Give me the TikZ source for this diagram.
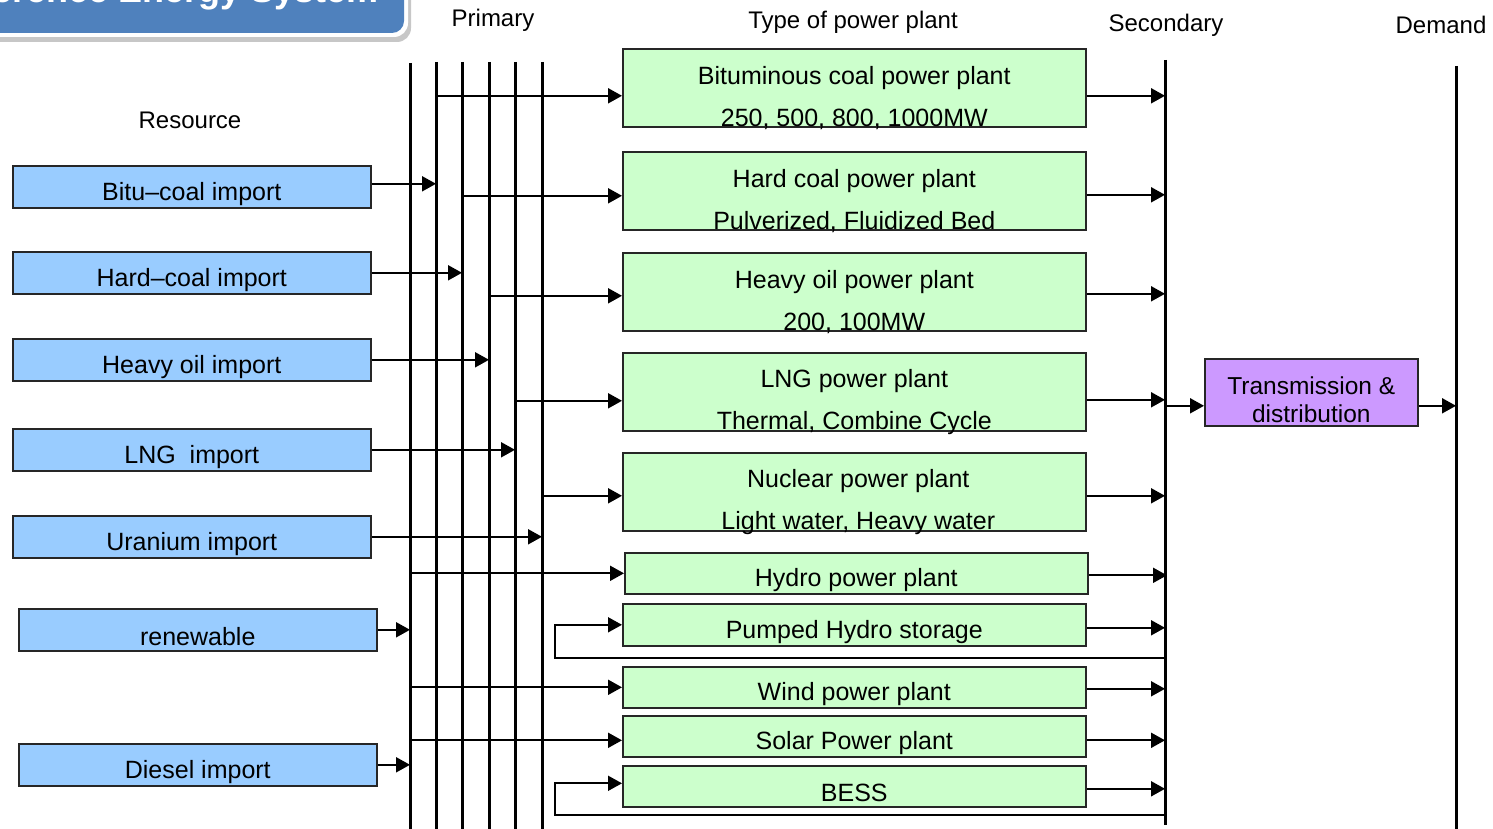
\documentclass[tikz,border=0pt]{standalone}
\usepackage{fontspec}
\setmainfont{Liberation Sans}
\usetikzlibrary{arrows.meta}
\definecolor{titleblue}{HTML}{4F81BD}
\definecolor{resblue}{HTML}{99CCFF}
\definecolor{plantgreen}{HTML}{CCFFCC}
\definecolor{tdpurple}{HTML}{CC99FF}
\begin{document}
\begin{tikzpicture}[x=1pt,y=-1pt,
  bus/.style={line width=3pt},
  conn/.style={line width=2pt,-{Triangle[length=14pt,width=15pt]}},
  loopconn/.style={line width=1.7pt,-{Triangle[length=14pt,width=15pt]}},
  boxline/.style={draw=black!85,line width=1.6pt,inner sep=0pt},
  resbox/.style={boxline,fill=resblue,minimum width=358pt,minimum height=42pt,anchor=north west},
  plantbox/.style={boxline,fill=plantgreen,minimum width=463pt,minimum height=78pt,anchor=north west},
  smallplant/.style={plantbox,minimum height=41pt},
  lbl/.style={font=\fontsize{25}{28}\selectfont,inner sep=0pt},
  plbl/.style={font=\fontsize{25}{42}\selectfont,align=center,inner sep=0pt},
  head/.style={font=\fontsize{24}{28}\selectfont,inner sep=0pt}
]
\useasboundingbox (0,0) rectangle (1493,829);
\clip (0,0) rectangle (1493,829);

% title banner (clipped at the top, as in the reference)
\fill[black!22,rounded corners=14pt] (-40,-40) rectangle (411,42);
\fill[white,rounded corners=14pt] (-40,-40) rectangle (408,37);
\fill[titleblue,rounded corners=12pt] (-40,-40) rectangle (404,33);
\node[anchor=base east,text=white,font=\fontsize{36}{40}\selectfont\bfseries,inner sep=0pt] (title) at (379,3) {Reference Energy System};

% headers
\node[head] (hprim) at (493,20.5) {Primary};
\node[head] (htype) at (853,22) {Type of power plant};
\node[head] (hsec) at (1166,25) {Secondary};
\node[head] (hdem) at (1441,25) {Demand};
\node[head] (hres) at (190,120) {Resource};

% buses
\coordinate (p1t) at (410,63);  \coordinate (p1b) at (410,840);
\coordinate (p2t) at (436,62);  \coordinate (p2b) at (436,840);
\coordinate (p3t) at (462,62);  \coordinate (p3b) at (462,840);
\coordinate (p4t) at (489,62);  \coordinate (p4b) at (489,840);
\coordinate (p5t) at (515,62);  \coordinate (p5b) at (515,840);
\coordinate (p6t) at (542,62);  \coordinate (p6b) at (542,840);
\coordinate (sect) at (1165,60); \coordinate (secb) at (1165,825);
\coordinate (demt) at (1456,66); \coordinate (demb) at (1456,840);
\foreach \b in {p1,p2,p3,p4,p5,p6}{\draw[bus] (\b t) -- (\b b);}
\draw[bus] (sect) -- (secb);
\draw[bus] (demt) -- (demb);

% resource boxes
\node[resbox,label={[lbl,yshift=-7pt]center:Bitu--coal import}] (bitu) at (12,165) {};
\node[resbox,label={[lbl,yshift=-7pt]center:Hard--coal import}] (hard) at (12,251) {};
\node[resbox,label={[lbl,yshift=-7pt]center:Heavy oil import}] (hoil) at (12,338) {};
\node[resbox,label={[lbl,yshift=-7pt]center:LNG\ \ import}] (lngi) at (12,428) {};
\node[resbox,label={[lbl,yshift=-7pt]center:Uranium import}] (uran) at (12,515) {};
\node[resbox,label={[lbl,yshift=-7pt]center:renewable}] (renew) at (18,608) {};
\node[resbox,label={[lbl,yshift=-7pt]center:Diesel import}] (dies) at (18,743) {};

% plant boxes
\node[plantbox,label={[plbl,yshift=-10pt]center:{Bituminous coal power plant\\250, 500, 800, 1000MW}}] (bc) at (622,48) {};
\node[plantbox,label={[plbl,yshift=-10pt]center:{Hard coal power plant\\Pulverized, Fluidized Bed}}] (hc) at (622,151) {};
\node[plantbox,label={[plbl,yshift=-10pt]center:{Heavy oil power plant\\200, 100MW}}] (ho) at (622,252) {};
\node[plantbox,label={[plbl,yshift=-10pt]center:{LNG power plant\\Thermal, Combine Cycle}}] (lng) at (622,352) {};
\node[plantbox,label={[plbl,yshift=-10pt,xshift=4pt]center:{Nuclear power plant\\Light water, Heavy water}}] (nuc) at (622,452) {};
\node[smallplant,label={[lbl,yshift=-7pt]center:Hydro power plant}] (hydro) at (624,552) {};
\node[smallplant,minimum height=42pt,label={[lbl,yshift=-7pt]center:Pumped Hydro storage}] (ph) at (622,603) {};
\node[smallplant,label={[lbl,yshift=-7pt]center:Wind power plant}] (wind) at (622,666) {};
\node[smallplant,label={[lbl,yshift=-7pt]center:Solar Power plant}] (solar) at (622,715) {};
\node[smallplant,label={[lbl,yshift=-7pt]center:BESS}] (bess) at (622,765) {};

% transmission & distribution
\node[boxline,fill=tdpurple,minimum width=213pt,minimum height=67pt,anchor=north west,
  label={[font=\fontsize{24.5}{28}\selectfont,align=center,inner sep=0pt,yshift=-7.5pt]center:{Transmission \&\\distribution}}] (td) at (1204,358) {};

% resource -> primary buses
\draw[conn] ([yshift=3pt]bitu.east) -- ([yshift=3pt]bitu.east -| p2t);
\draw[conn] (hard.east) -- (hard.east -| p3t);
\draw[conn] (hoil.east) -- (hoil.east -| p4t);
\draw[conn] (lngi.east) -- (lngi.east -| p5t);
\draw[conn] (uran.east) -- (uran.east -| p6t);
\draw[conn] (renew.east) -- (renew.east -| p1t);
\draw[conn] (dies.east) -- (dies.east -| p1t);

% primary buses -> plants
\draw[conn] ([yshift=-8pt]bc.west -| p2t) -- ([yshift=-8pt]bc.west);
\draw[conn] ([yshift=-5pt]hc.west -| p3t) -- ([yshift=-5pt]hc.west);
\draw[conn] ([yshift=-4pt]ho.west -| p4t) -- ([yshift=-4pt]ho.west);
\draw[conn] ([yshift=-9pt]lng.west -| p5t) -- ([yshift=-9pt]lng.west);
\draw[conn] ([yshift=-4pt]nuc.west -| p6t) -- ([yshift=-4pt]nuc.west);
\draw[conn] (hydro.west -| p1t) -- (hydro.west);
\draw[conn] (wind.west -| p1t) -- (wind.west);
\draw[conn] ([yshift=-4pt]solar.west -| p1t) -- ([yshift=-4pt]solar.west);

% storage loops from secondary bus
\coordinate (phloop) at (555,658);
\coordinate (bessloop) at (555,815);
\draw[loopconn] (phloop -| sect) -- (phloop) |- (ph.west);
\draw[loopconn] (bessloop -| sect) -- (bessloop) |- ([yshift=3pt]bess.west);

% plants -> secondary bus
\draw[conn] ([yshift=-8pt]bc.east) -- ([yshift=-8pt]bc.east -| sect);
\draw[conn] ([yshift=-4pt]hc.east) -- ([yshift=-4pt]hc.east -| sect);
\draw[conn] ([yshift=-2pt]ho.east) -- ([yshift=-2pt]ho.east -| sect);
\draw[conn] ([yshift=-8pt]lng.east) -- ([yshift=-8pt]lng.east -| sect);
\draw[conn] ([yshift=-4pt]nuc.east) -- ([yshift=-4pt]nuc.east -| sect);
\draw[conn] ([yshift=-2pt]hydro.east) -- ([yshift=-2pt,xshift=2pt]hydro.east -| sect);
\draw[conn] ([yshift=-3pt]ph.east) -- ([yshift=-3pt]ph.east -| sect);
\draw[conn] ([yshift=-1.5pt]wind.east) -- ([yshift=-1.5pt]wind.east -| sect);
\draw[conn] ([yshift=-4pt]solar.east) -- ([yshift=-4pt]solar.east -| sect);
\draw[conn] ([yshift=-2.5pt]bess.east) -- ([yshift=-2.5pt]bess.east -| sect);

% secondary -> T&D -> demand
\draw[conn] ([yshift=-13.5pt]td.west -| sect) -- ([yshift=-13.5pt]td.west);
\draw[conn] ([yshift=-13.5pt]td.east) -- ([yshift=-13.5pt]td.east -| demt);
\end{tikzpicture}
\end{document}
